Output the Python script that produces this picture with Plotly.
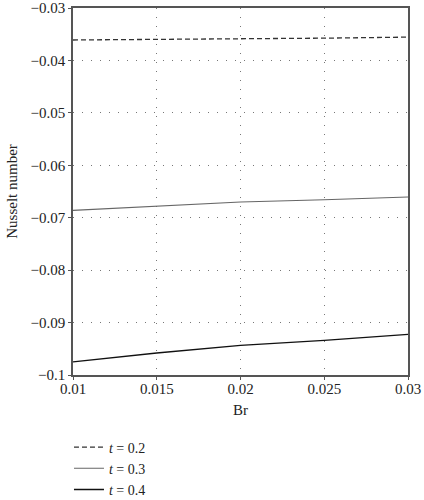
import plotly.graph_objects as go

br = [0.01, 0.015, 0.02, 0.025, 0.03]
nu_t02 = [-0.0361, -0.0360, -0.0359, -0.03575, -0.03555]
nu_t03 = [-0.0686, -0.0678, -0.0670, -0.06656, -0.06606]
nu_t04 = [-0.0975, -0.0958, -0.09434, -0.09338, -0.09224]
labels = ["<i>t</i> = 0.2", "<i>t</i> = 0.3", "<i>t</i> = 0.4"]

font = "Liberation Serif"

fig = go.Figure()
fig.add_trace(go.Scatter(x=br, y=nu_t02, mode="lines", name=labels[0],
                         line=dict(color="#333333", width=1.3, dash="5px,3px")))
fig.add_trace(go.Scatter(x=br, y=nu_t03, mode="lines", name=labels[1],
                         line=dict(color="#666666", width=1.1)))
fig.add_trace(go.Scatter(x=br, y=nu_t04, mode="lines", name=labels[2],
                         line=dict(color="#111111", width=1.3)))

axis_common = dict(
    showline=True, linecolor="#555555", linewidth=1.5, mirror=True,
    ticks="outside", ticklen=3, tickcolor="#555555",
    showgrid=True, gridcolor="#777777", griddash="1px,8px", gridwidth=1,
    zeroline=False, ticklabeloverflow="allow", automargin=False,
    tickfont=dict(family=font, size=15, color="#222222"),
)

fig.update_layout(
    width=424, height=500,
    margin=dict(l=73, r=16, t=8, b=125, autoexpand=False),
    plot_bgcolor="white", paper_bgcolor="white",
    font=dict(family=font, size=15, color="#222222"),
    xaxis=dict(range=[0.01, 0.03], dtick=0.005, tick0=0.01, ticklabelstandoff=-4,
               title=dict(text="Br", font=dict(family=font, size=15), standoff=9),
               **axis_common),
    yaxis=dict(range=[-0.1, -0.03], dtick=0.01, tick0=-0.1,
               title=dict(text="Nusselt number", font=dict(family=font, size=15), standoff=9),
               **axis_common),
    showlegend=True,
    legend=dict(x=-0.012, y=-0.154, xanchor="left", yanchor="top",
                font=dict(family=font, size=14, color="#222222"),
                tracegroupgap=0, itemwidth=30, bgcolor="rgba(0,0,0,0)"),
)

# the page body has a default 8px margin; drop it so the figure sits at the window corner
fig.write_html("out.html", config={"displayModeBar": False},
               post_script="document.body.style.margin='0';")
